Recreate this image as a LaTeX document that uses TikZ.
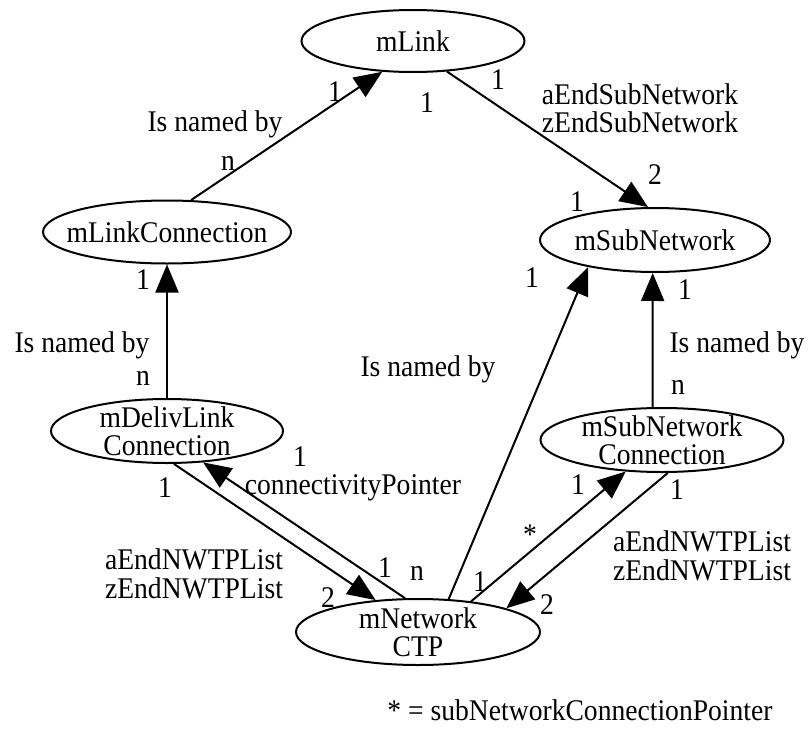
\documentclass[tikz,border=0pt]{standalone}
\usepackage{fontspec}
\setmainfont{Liberation Serif}[FakeStretch=0.92]
\usetikzlibrary{shapes.geometric,arrows.meta}

\begin{document}
\begin{tikzpicture}[x=1pt,y=-1pt,
    font=\fontsize{30}{28.5}\selectfont,
    ent/.style={draw,ellipse,line width=2pt,inner sep=0pt,minimum height=64pt},
    rel/.style={line width=2pt,-{Triangle[length=28pt,width=23pt]}},
    every label/.style={align=center,inner sep=0pt},
    lab/.style={inner sep=0pt,align=center}]
  \useasboundingbox (0,0) rectangle (812,731);
      \node[ent,minimum width=223pt,minimum height=62pt,label={center:mLink}] (L) at (413,41) {};
      \node[ent,minimum width=248pt,minimum height=63pt,label={center:mLinkConnection}] (LC) at (167,232) {};
      \node[ent,minimum width=230pt,label={center:mSubNetwork}] (SN) at (655,240) {};
      \node[ent,minimum width=232pt,label={center:mDelivLink\\Connection}] (DLC) at (167,431) {};
      \node[ent,minimum width=243pt,label={center:mSubNetwork\\Connection}] (SNC) at (662,440) {};
      \node[ent,minimum width=244pt,minimum height=66pt,label={center:mNetwork\\CTP}] (CTP) at (418,632) {};
      % relations
      \draw[rel] (LC.53) -- (L.-135);
      \draw[rel] (L.-42) -- (SN.102);
      \draw[rel] (DLC) -- (LC);
      \draw[rel] (SNC.106) -- (SN.-94);
      \draw[rel] (CTP.47) -- (SN.-158);
      \draw[rel] (DLC.-78) -- (CTP.143);
      \draw[rel] (CTP.111) -- (DLC.-41);
      \draw[rel] (CTP.30) -- (SNC.-139);
      \draw[rel] (SNC.-80) -- (CTP.15);
      % LC to L
      \node[lab] (a1) at (335,92) {1};
      \node[lab] (a2) at (215,124) {Is named by};
      \node[lab] (a3) at (228,163) {n};
      % L to SN
      \node[lab] (b1) at (498,80) {1};
      \node[lab] (b2) at (427,103) {1};
      \node[lab] (b3) at (640,108) {aEndSubNetwork\\zEndSubNetwork};
      \node[lab] (b4) at (655,175) {2};
      \node[lab] (b5) at (577,202) {1};
      % DLC to LC
      \node[lab] (c1) at (143,280) {1};
      \node[lab] (c2) at (82,345) {Is named by};
      \node[lab] (c3) at (143,378) {n};
      % SNC to SN
      \node[lab] (d1) at (685,290) {1};
      \node[lab] (d2) at (737,345) {Is named by};
      \node[lab] (d3) at (678,387) {n};
      % CTP to SN
      \node[lab] (e1) at (532,278) {1};
      \node[lab] (e2) at (428,369) {Is named by};
      % DLC and CTP
      \node[lab] (f1) at (165,488) {1};
      \node[lab] (f2) at (194,574) {aEndNWTPList\\zEndNWTPList};
      \node[lab] (f3) at (328,598) {2};
      \node[lab] (f4) at (300,457) {1};
      \node[lab] (f5) at (353,488) {connectivityPointer};
      \node[lab] (f6) at (385,568) {1};
      \node[lab] (f7) at (417,573) {n};
      % SNC and CTP
      \node[lab] (g1) at (530,535) {*};
      \node[lab] (g2) at (578,485) {1};
      \node[lab] (g3) at (480,582) {1};
      \node[lab] (g4) at (677,490) {1};
      \node[lab] (g5) at (702,556) {aEndNWTPList\\zEndNWTPList};
      \node[lab] (g6) at (547,605) {2};
      % footnote
      \node[lab] (key) at (580,710) {* = subNetworkConnectionPointer};
    \end{tikzpicture}
\end{document}
